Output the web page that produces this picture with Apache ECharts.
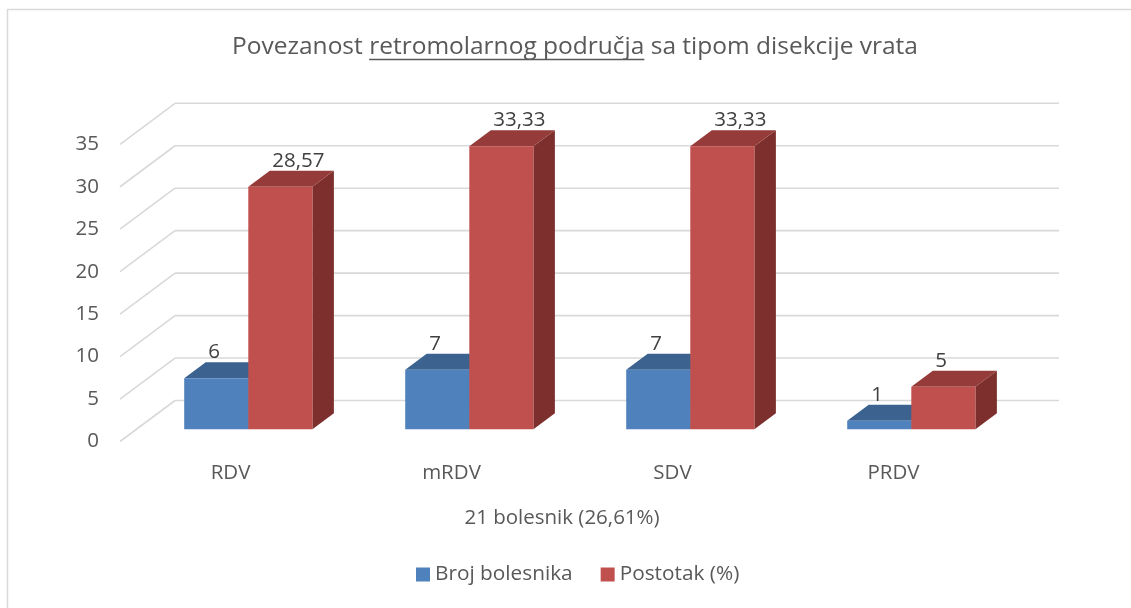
<!DOCTYPE html>
<html>
<head>
<meta charset="utf-8">
<script src="https://cdn.jsdelivr.net/npm/echarts@6/dist/echarts.min.js"></script>
<style>
html,body{margin:0;padding:0;background:#fff}
#main{width:1131px;height:608px}
</style>
</head>
<body>
<div id="main"></div>
<script>
// podaci
var categories = ['RDV', 'mRDV', 'SDV', 'PRDV'];
var brojBolesnika = [6, 7, 7, 1];
var postotak = [28.57, 33.33, 33.33, 5];
var yTicks = [0, 5, 10, 15, 20, 25, 30, 35];

var FONT = '"Open Sans", sans-serif';
var TXT = '#595959';
// 3D pomaci: stražnji zid, pomak stupaca u dubinu, dubina stupca
var WALL = [55, -41], SHIFT = [17.8, -12.2], DEPTH = [21.5, -16];

function fmt(v) { return String(v).replace('.', ','); }

function wallItem(params, api) {
  var cs = params.coordSys;
  var y = api.coord([0, api.value(1)])[1];
  var x0 = cs.x, x1 = cs.x + cs.width;
  var st = { stroke: '#d9d9d9', lineWidth: 1.6 };
  return { type: 'group', children: [
    { type: 'line', shape: { x1: x0, y1: y, x2: x0 + WALL[0], y2: y + WALL[1] }, style: st },
    { type: 'line', shape: { x1: x0 + WALL[0], y1: y + WALL[1], x2: x1 + WALL[0], y2: y + WALL[1] }, style: st }
  ]};
}

function barItem(side, colors) {
  return function (params, api) {
    var i = api.value(0), v = api.value(1);
    var base = api.coord([i, 0]), top = api.coord([i, v]);
    var w = api.size([1, 0])[0] * 0.29;
    var cx = base[0] + SHIFT[0];
    var xl = side < 0 ? cx - w : cx, xr = xl + w;
    var yb = base[1] + SHIFT[1], yt = top[1] + SHIFT[1];
    var dx = DEPTH[0], dy = DEPTH[1];
    return { type: 'group', children: [
      { type: 'polygon', shape: { points: [[xr, yb], [xr + dx, yb + dy], [xr + dx, yt + dy], [xr, yt]] }, style: { fill: colors[2] } },
      { type: 'polygon', shape: { points: [[xl, yt], [xl + dx, yt + dy], [xr + dx, yt + dy], [xr, yt]] }, style: { fill: colors[1] } },
      { type: 'rect', shape: { x: xl, y: yt, width: w, height: yb - yt }, style: { fill: colors[0] } },
      // oznaka vrijednosti, lijevo poravnata kao u Excelu
      { type: 'text', x: xl + w / 2 - 8, y: yt + dy - 10,
        style: { text: fmt(v), textAlign: 'left', textVerticalAlign: 'middle', font: '20.5px ' + FONT, fill: '#404040' } }
    ]};
  };
}

// naslov s podcrtanim dijelom
var t1 = 'Povezanost ', t2 = 'retromolarnog područja', t3 = ' sa tipom disekcije vrata';
var titleFont = '24.5px ' + FONT;
var ctx = document.createElement('canvas').getContext('2d');
ctx.font = titleFont;
var w1 = ctx.measureText(t1).width, w2 = ctx.measureText(t2).width, w3 = ctx.measureText(t3).width;
var tx = 575 - (w1 + w2 + w3) / 2;

var chart = echarts.init(document.getElementById('main'));
chart.setOption({
  animation: false,
  backgroundColor: '#fff',
  textStyle: { fontFamily: FONT },
  grid: { left: 120, right: 127, top: 144.3, bottom: 166.5 },
  legend: {
    data: ['Broj bolesnika', 'Postotak (%)'],
    left: 416, top: 564, padding: 0,
    icon: 'rect', itemWidth: 14, itemHeight: 14, itemGap: 28,
    textStyle: { fontSize: 20.8, color: TXT, fontFamily: FONT }
  },
  xAxis: {
    type: 'category',
    data: categories,
    axisLine: { show: false },
    axisTick: { show: false },
    axisLabel: { color: TXT, fontSize: 20.5, margin: 21, fontFamily: FONT },
    name: '21 bolesnik (26,61%)',
    nameLocation: 'middle',
    nameGap: 66,
    nameTextStyle: { color: TXT, fontSize: 20.5, fontFamily: FONT }
  },
  yAxis: {
    type: 'value', min: 0, max: 35, interval: 5,
    axisLine: { show: false },
    axisTick: { show: false },
    splitLine: { show: false },
    axisLabel: { color: TXT, fontSize: 20.5, margin: 21, fontFamily: FONT }
  },
  graphic: [
    { type: 'line', shape: { x1: 7.5, y1: 9, x2: 7.5, y2: 608 }, style: { stroke: '#d9d9d9', lineWidth: 1.5 } },
    { type: 'line', shape: { x1: 7, y1: 9.5, x2: 1131, y2: 9.5 }, style: { stroke: '#d9d9d9', lineWidth: 1.5 } },
    { type: 'text', x: tx, y: 47, style: { text: t1 + t2 + t3, font: titleFont, fill: TXT, textVerticalAlign: 'middle' } },
    { type: 'line', shape: { x1: tx + w1, y1: 59.5, x2: tx + w1 + w2, y2: 59.5 }, style: { stroke: TXT, lineWidth: 1.3 } }
  ],
  series: [
    {
      type: 'custom', name: 'zid', silent: true,
      renderItem: wallItem,
      data: yTicks.map(function (v) { return [0, v]; })
    },
    {
      type: 'custom', name: 'Broj bolesnika',
      itemStyle: { color: '#4F81BD' },
      renderItem: barItem(-1, ['#4F81BD', '#3C628F', '#385D8A']),
      data: brojBolesnika.map(function (v, i) { return [i, v]; })
    },
    {
      type: 'custom', name: 'Postotak (%)',
      itemStyle: { color: '#C0504D' },
      renderItem: barItem(1, ['#C0504D', '#953B39', '#7C2F2D']),
      data: postotak.map(function (v, i) { return [i, v]; })
    }
  ]
});
</script>
</body>
</html>
